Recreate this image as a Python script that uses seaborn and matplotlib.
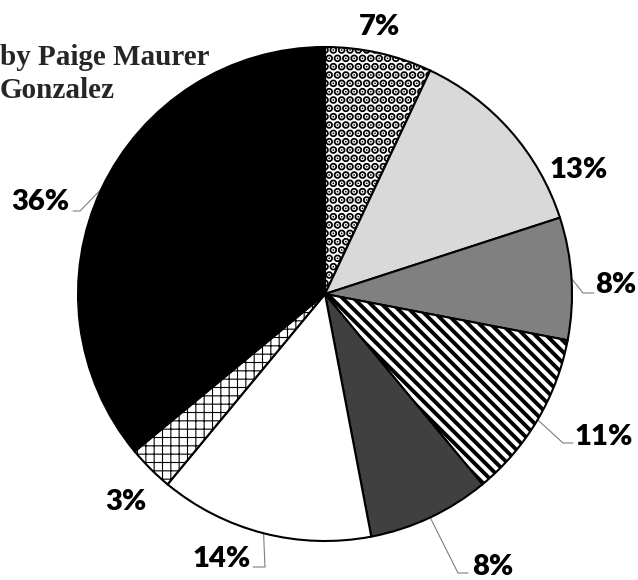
import numpy as np
import matplotlib
matplotlib.use("Agg")
import matplotlib.pyplot as plt
import seaborn as sns

# ---- data ----
shares = [7, 13, 8, 11, 8, 14, 3, 36]
pct_labels = ["7%", "13%", "8%", "11%", "8%", "14%", "3%", "36%"]
credit_lines = ["by Paige Maurer", "Gonzalez"]

# ---- style ----
fills = ["white", "#d9d9d9", "#808080", "white", "#404040", "white", "white", "black"]
hatches = ["..", None, None, "\\\\\\", None, None, "++", None]
hatch_lws = [4.2, 1.0, 1.0, 2.8, 1.0, 1.0, 0.8, 1.0]

sns.set_theme(style="white")
plt.rcParams["font.family"] = ["Lato", "DejaVu Sans"]
plt.rcParams["hatch.color"] = "black"

W, H, DPI = 638, 580, 100
fig = plt.figure(figsize=(W / DPI, H / DPI), dpi=DPI)
fig.patch.set_facecolor("white")
ax = fig.add_axes([0, 0, 1, 1])

wedges, _ = ax.pie(shares, startangle=90, counterclock=False, colors=fills,
                   radius=1, wedgeprops=dict(edgecolor="black", linewidth=1.5))

for w, h, lw in zip(wedges, hatches, hatch_lws):
    if h:
        w.set_hatch(h)
        if hasattr(w, "set_hatch_linewidth"):
            w.set_hatch_linewidth(lw)
        else:
            w._hatch_linewidth = lw

# layout: pixel geometry of the pie
cx, cy, R = 325, 294, 247
ax.set_aspect("auto")
ax.set_xlim(-cx / R, (W - cx) / R)
ax.set_ylim(-(H - cy) / R, cy / R)
ax.axis("off")


def px(x, y):
    return (x - cx) / R, (cy - y) / R


# label baseline positions (pixels)
label_pos = [(380, 35), (579, 178), (616, 293), (604, 445),
             (493, 575), (222, 567), (126, 510), (40, 210)]
for lab, (x, y) in zip(pct_labels, label_pos):
    tx, ty = px(x, y)
    ax.text(tx, ty, lab, ha="center", va="baseline", fontsize=21,
            fontweight="heavy", color="black")

# leader lines: elbow and end (pixels) for labels that have them
leaders = {2: [(583, 293), (594, 293)],
           3: [(563, 443), (573, 443)],
           4: [(458, 573), (468, 573)],
           5: [(265, 567), (253, 567)],
           7: [(80, 211), (73, 211)]}
for i, pts in leaders.items():
    w = wedges[i]
    mid = np.deg2rad((w.theta1 + w.theta2) / 2)
    xs = [np.cos(mid)] + [px(*p)[0] for p in pts]
    ys = [np.sin(mid)] + [px(*p)[1] for p in pts]
    ax.plot(xs, ys, color="#7f7f7f", lw=0.8, zorder=0.5)

fig.text(0.0, 1 - 65 / H, credit_lines[0], family=["Liberation Serif", "DejaVu Serif"],
         fontweight="bold", fontsize=21, ha="left", va="baseline")
fig.text(0.0, 1 - 98 / H, credit_lines[1], family=["Liberation Serif", "DejaVu Serif"],
         fontweight="bold", fontsize=21, ha="left", va="baseline")

fig.savefig("out.png", dpi=DPI, facecolor="white")
